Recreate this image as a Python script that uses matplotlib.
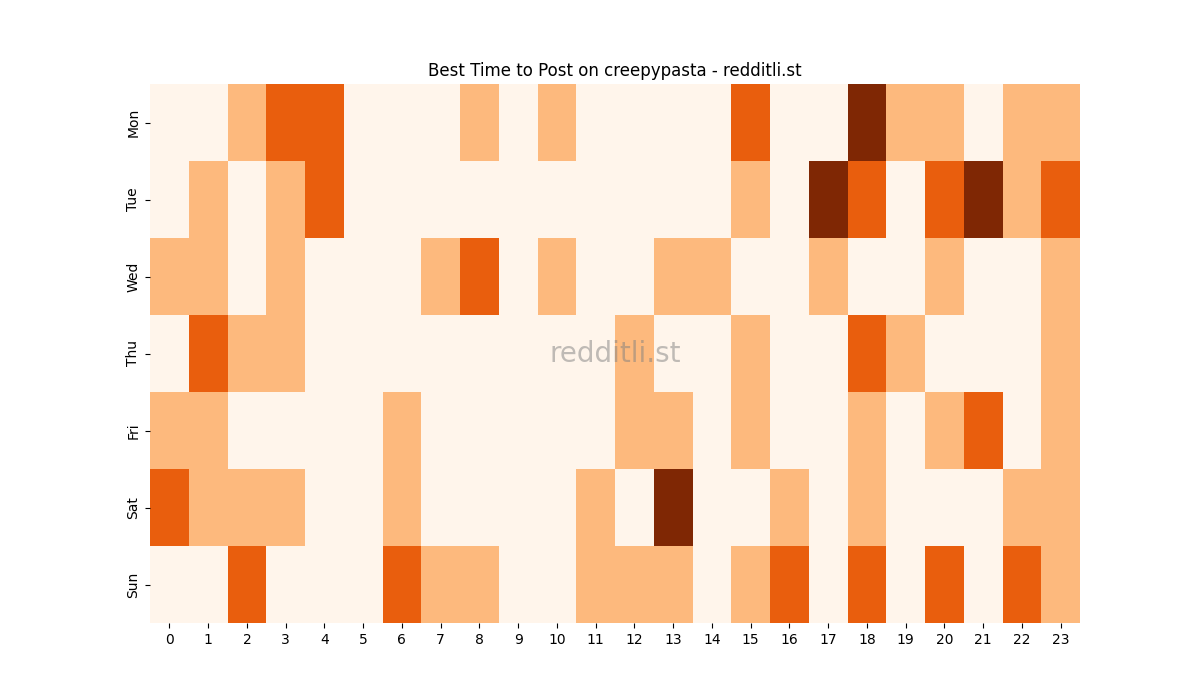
import numpy as np
import matplotlib
matplotlib.use("Agg")
import matplotlib.pyplot as plt
import seaborn as sns

days = ["Mon", "Tue", "Wed", "Thu", "Fri", "Sat", "Sun"]
hours = list(range(24))

mon = [0, 0, 1, 2, 2, 0, 0, 0, 1, 0, 1, 0, 0, 0, 0, 2, 0, 0, 3, 1, 1, 0, 1, 1]
tue = [0, 1, 0, 1, 2, 0, 0, 0, 0, 0, 0, 0, 0, 0, 0, 1, 0, 3, 2, 0, 2, 3, 1, 2]
wed = [1, 1, 0, 1, 0, 0, 0, 1, 2, 0, 1, 0, 0, 1, 1, 0, 0, 1, 0, 0, 1, 0, 0, 1]
thu = [0, 2, 1, 1, 0, 0, 0, 0, 0, 0, 0, 0, 1, 0, 0, 1, 0, 0, 2, 1, 0, 0, 0, 1]
fri = [1, 1, 0, 0, 0, 0, 1, 0, 0, 0, 0, 0, 1, 1, 0, 1, 0, 0, 1, 0, 1, 2, 0, 1]
sat = [2, 1, 1, 1, 0, 0, 1, 0, 0, 0, 0, 1, 0, 3, 0, 0, 1, 0, 1, 0, 0, 0, 1, 1]
sun = [0, 0, 2, 0, 0, 0, 2, 1, 1, 0, 0, 1, 1, 1, 0, 1, 2, 0, 2, 0, 2, 0, 2, 1]

grid = np.array([mon, tue, wed, thu, fri, sat, sun])

fig, ax = plt.subplots(figsize=(12, 7), dpi=100)
sns.heatmap(grid, cmap="Oranges", vmin=0, vmax=3, cbar=False,
            xticklabels=hours, yticklabels=days, ax=ax)
ax.set_title("Best Time to Post on creepypasta - redditli.st")
ax.text(0.5, 0.5, "redditli.st", transform=ax.transAxes, ha="center",
        va="center", fontsize=20, color="gray", alpha=0.5)

plt.savefig("out.png")
